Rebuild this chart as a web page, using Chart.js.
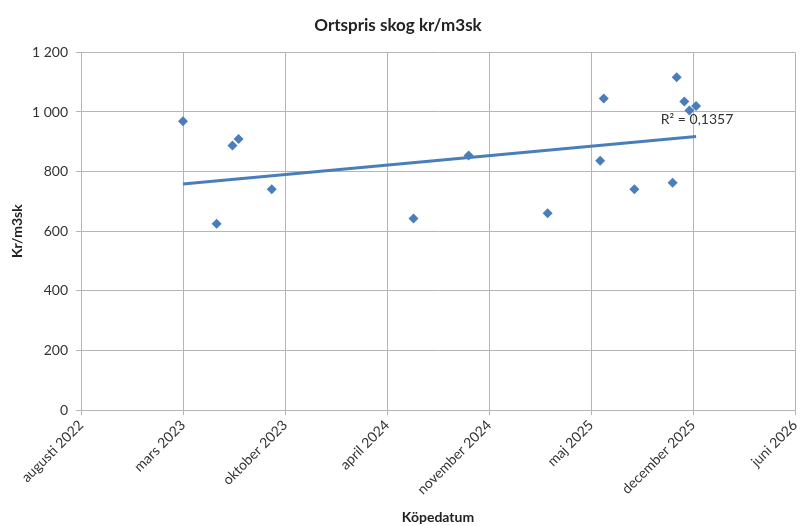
<!DOCTYPE html>
<html>
<head>
<meta charset="utf-8">
<script src="https://cdn.jsdelivr.net/npm/chart.js@4/dist/chart.umd.min.js"></script>
<style>
  html, body { margin: 0; padding: 0; background: #fff; }
  #wrap { width: 800px; height: 526px; }
</style>
</head>
<body>
<div id="wrap"><canvas id="chart"></canvas></div>
<script>
// Köpedatum as Excel day serials
const dates = [45000, 45066, 45097, 45109, 45174, 45452, 45560, 45715,
               45818, 45825, 45885, 45960, 45968, 45983, 45993, 46006];
const prices = [969, 625, 888, 909, 741, 643, 854, 660,
                836, 1045, 741, 763, 1117, 1035, 1005, 1020];
// trendline end points as drawn
const trendDates = [45000, 46006];
const trendPrices = [758, 918];
const r2Label = "R² = 0,1357";

const months = ["januari", "februari", "mars", "april", "maj", "juni", "juli",
                "augusti", "september", "oktober", "november", "december"];

function serialToLabel(v) {
  const d = new Date(Date.UTC(1899, 11, 30) + v * 86400000);
  return months[d.getUTCMonth()] + " " + d.getUTCFullYear();
}

const BLUE = "#4a7ebb";
const GRID = "#b5b5b5";
const FONT = "Lato, 'Open Sans', sans-serif";

// R² text next to the trendline end
const r2Plugin = {
  id: "r2",
  afterDatasetsDraw(chart) {
    const ctx = chart.ctx;
    const x = chart.scales.x.getPixelForValue(trendDates[1]);
    const y = chart.scales.y.getPixelForValue(trendPrices[1]);
    ctx.save();
    ctx.font = "14px " + FONT;
    ctx.fillStyle = "#333";
    ctx.textAlign = "center";
    ctx.textBaseline = "middle";
    ctx.fillText(r2Label, x + 1, y - 17);
    ctx.restore();
  }
};

new Chart(document.getElementById("chart"), {
  type: "scatter",
  data: {
    datasets: [
      {
        data: dates.map((d, i) => ({ x: d, y: prices[i] })),
        pointStyle: "rectRot",
        pointRadius: 5,
        backgroundColor: BLUE,
        borderColor: BLUE,
        borderWidth: 0,
        order: 2
      },
      {
        type: "line",
        data: trendDates.map((d, i) => ({ x: d, y: trendPrices[i] })),
        borderColor: BLUE,
        borderWidth: 3,
        pointRadius: 0,
        fill: false,
        order: 1
      }
    ]
  },
  options: {
    responsive: true,
    maintainAspectRatio: false,
    animation: false,
    layout: { padding: { left: 0, right: 4, top: 0, bottom: 0 } },
    plugins: {
      legend: { display: false },
      tooltip: { enabled: false },
      title: {
        display: true,
        text: "Ortspris skog kr/m3sk",
        color: "#222",
        font: { family: FONT, size: 17, weight: "bold" },
        padding: { top: 15, bottom: 17 }
      }
    },
    scales: {
      x: {
        type: "linear",
        min: 44800,
        max: 46200,
        afterFit: (s) => { s.height = 116; s.paddingRight = 0; s.paddingLeft = 0; },
        ticks: {
          stepSize: 200,
          autoSkip: false,
          minRotation: 45,
          maxRotation: 45,
          padding: 2,
          color: "#333",
          font: { family: FONT, size: 14 },
          callback: (v) => serialToLabel(v)
        },
        grid: { color: GRID, tickLength: 5, tickColor: GRID },
        border: { color: GRID },
        title: {
          display: true,
          text: "Köpedatum",
          color: "#222",
          font: { family: FONT, size: 14, weight: "bold" },
          padding: { top: 2, bottom: 0 }
        }
      },
      y: {
        min: 0,
        max: 1200,
        afterFit: (s) => { s.width = 81; },
        ticks: {
          stepSize: 200,
          padding: 8,
          color: "#333",
          font: { family: FONT, size: 14 },
          callback: (v) => String(v).replace(/\B(?=(\d{3})+(?!\d))/g, " ")
        },
        grid: { color: GRID, tickLength: 5, tickColor: GRID },
        border: { color: GRID },
        title: {
          display: true,
          text: "Kr/m3sk",
          color: "#222",
          font: { family: FONT, size: 14, weight: "bold" },
          padding: { top: 9, bottom: 0 }
        }
      }
    }
  },
  plugins: [r2Plugin]
});
</script>
</body>
</html>
